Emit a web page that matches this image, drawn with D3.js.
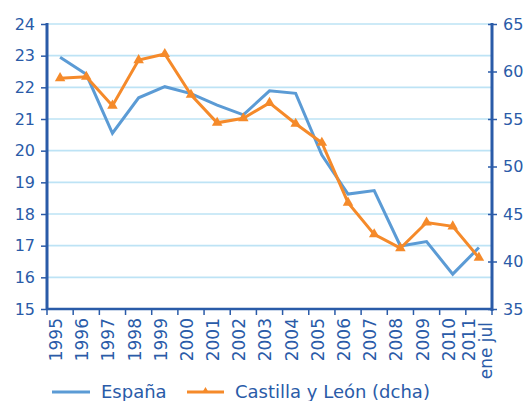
<!DOCTYPE html>
<html>
<head>
<meta charset="utf-8">
<script src="https://cdn.jsdelivr.net/npm/d3@7"></script>
<style>
  html, body { margin: 0; padding: 0; background: #fff; }
  svg text { font-family: "DejaVu Sans", sans-serif; fill: #2a5ba8; }
</style>
</head>
<body>
<div id="chart"></div>
<script>
// categories (last one is split over two lines)
var years = ['1995', '1996', '1997', '1998', '1999', '2000', '2001', '2002', '2003',
             '2004', '2005', '2006', '2007', '2008', '2009', '2010', '2011 ene jul'];
// España, left axis (%)
var espana = [22.95, 22.41, 20.55, 21.67, 22.02, 21.8, 21.44, 21.13, 21.89,
              21.81, 19.86, 18.63, 18.74, 16.99, 17.13, 16.1, 16.94];
// Castilla y León, right axis (dcha)
var castilla = [59.3, 59.45, 56.4, 61.2, 61.84, 57.55, 54.6, 55.07, 56.7,
                54.5, 52.5, 46.2, 42.86, 41.4, 44.1, 43.7, 40.4];
var leftTicks = [15, 16, 17, 18, 19, 20, 21, 22, 23, 24];
var rightTicks = [35, 40, 45, 50, 55, 60, 65];
var seriesNames = ['España', 'Castilla y León (dcha)'];

var width = 526, height = 401;
var dark = '#2a5ba8', blue = '#5b9bd5', orange = '#f58a2a', grid = '#bde3f5';
var plotL = 47, plotR = 492, plotT = 24, plotB = 309;

var svg = d3.select('#chart').append('svg')
  .attr('width', width)
  .attr('height', height);

var x = d3.scaleBand().domain(years).range([plotL, plotR]);
var yL = d3.scaleLinear().domain([15, 24]).range([plotB, plotT]);
var yR = d3.scaleLinear().domain([35, 65]).range([plotB, plotT]);

// gridlines
svg.append('g')
  .selectAll('line')
  .data(leftTicks.slice(1))
  .enter()
  .append('line')
  .attr('x1', plotL).attr('x2', plotR)
  .attr('y1', function (d) { return yL(d); })
  .attr('y2', function (d) { return yL(d); })
  .attr('stroke', grid)
  .attr('stroke-width', 1.6);

// left axis
var gL = svg.append('g')
  .attr('transform', 'translate(' + plotL + ',0)')
  .call(d3.axisLeft(yL).tickValues(leftTicks).tickSize(6).tickPadding(6));
gL.select('.domain').remove();
gL.selectAll('line').attr('stroke', dark).attr('stroke-width', 1.5);
gL.selectAll('text').attr('font-size', 16).style('fill', dark);
svg.append('line')
  .attr('x1', plotL).attr('x2', plotL).attr('y1', plotT - 1).attr('y2', plotB + 1)
  .attr('stroke', dark).attr('stroke-width', 3);

// right axis
var gR = svg.append('g')
  .attr('transform', 'translate(' + plotR + ',0)')
  .call(d3.axisRight(yR).tickValues(rightTicks).tickSize(5).tickPadding(6));
gR.select('.domain').remove();
gR.selectAll('line').attr('x1', -4).attr('stroke', dark).attr('stroke-width', 1.5);
gR.selectAll('text').attr('font-size', 16).style('fill', dark);
svg.append('line')
  .attr('x1', plotR).attr('x2', plotR).attr('y1', plotT - 1).attr('y2', plotB + 2)
  .attr('stroke', dark).attr('stroke-width', 3);

// bottom axis
var ticksX = years.map(function (d) { return x(d); }).concat([plotR]);
svg.append('g')
  .selectAll('line')
  .data(ticksX)
  .enter()
  .append('line')
  .attr('x1', function (d) { return d; })
  .attr('x2', function (d) { return d; })
  .attr('y1', plotB).attr('y2', plotB + 6)
  .attr('stroke', dark).attr('stroke-width', 1.5);
svg.append('line')
  .attr('x1', plotL - 1).attr('x2', plotR + 1).attr('y1', plotB).attr('y2', plotB)
  .attr('stroke', dark).attr('stroke-width', 2.5);

var labels = svg.append('g')
  .selectAll('text')
  .data(years)
  .enter()
  .append('text')
  .attr('transform', function (d) {
    var cx = x(d) + x.bandwidth() / 2 - 4;
    return 'translate(' + cx + ',' + (plotB + 9) + ') rotate(-90)';
  })
  .attr('text-anchor', 'end')
  .attr('font-size', 17);
labels.each(function (d) {
  var parts = d.split(' ');
  var t = d3.select(this);
  if (parts.length === 1) {
    t.append('tspan').attr('x', 0).attr('dy', '0.35em').text(d);
  } else {
    t.append('tspan').attr('x', 0).attr('dy', '0.02em').text(parts[0]);
    t.append('tspan').attr('x', -4).attr('dy', '1.0em').text(parts.slice(1).join(' '));
  }
});

// series
var px = function (d, i) { return x(years[i]) + x.bandwidth() / 2; };
var lineL = d3.line().x(px).y(function (d) { return yL(d); });
var lineR = d3.line().x(px).y(function (d) { return yR(d); });

svg.append('path')
  .datum(espana)
  .attr('d', lineL)
  .attr('fill', 'none')
  .attr('stroke', blue)
  .attr('stroke-width', 3);

svg.append('path')
  .datum(castilla)
  .attr('d', lineR)
  .attr('fill', 'none')
  .attr('stroke', orange)
  .attr('stroke-width', 3);

svg.append('g')
  .selectAll('path')
  .data(castilla)
  .enter()
  .append('path')
  .attr('d', d3.symbol().type(d3.symbolTriangle).size(48))
  .attr('transform', function (d, i) {
    return 'translate(' + px(d, i) + ',' + yR(d) + ')';
  })
  .attr('fill', orange);

// legend
var legend = svg.append('g');
legend.append('line')
  .attr('x1', 52).attr('x2', 90).attr('y1', 392).attr('y2', 392)
  .attr('stroke', blue).attr('stroke-width', 3);
legend.append('text')
  .attr('x', 101).attr('y', 398)
  .attr('font-size', 18)
  .text(seriesNames[0]);
legend.append('line')
  .attr('x1', 187).attr('x2', 224).attr('y1', 392).attr('y2', 392)
  .attr('stroke', orange).attr('stroke-width', 3);
legend.append('path')
  .attr('d', d3.symbol().type(d3.symbolTriangle).size(22))
  .attr('transform', 'translate(205.5,391)')
  .attr('fill', orange);
legend.append('text')
  .attr('x', 235).attr('y', 398)
  .attr('font-size', 18)
  .text(seriesNames[1]);
</script>
</body>
</html>
